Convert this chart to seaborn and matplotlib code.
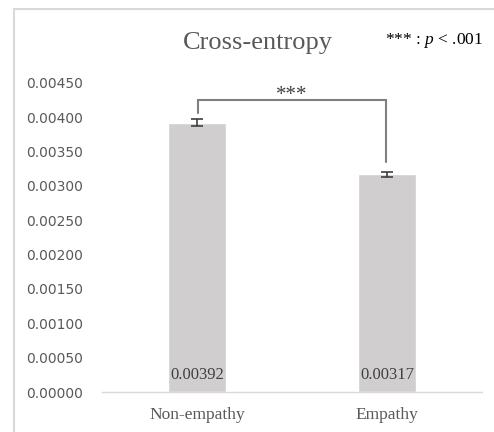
import matplotlib
matplotlib.use("Agg")
import matplotlib.pyplot as plt
import seaborn as sns
import pandas as pd
from matplotlib.patches import Rectangle

# data
groups = ["Non-empathy", "Empathy"]
cross_entropy = [0.00392, 0.00317]
errors = [0.00005, 0.00004]
y_ticks = [0.0, 0.0005, 0.0010, 0.0015, 0.0020, 0.0025, 0.0030, 0.0035, 0.0040, 0.0045]

df = pd.DataFrame({"group": groups, "value": cross_entropy})

sns.set_style("white")
plt.rcParams["mathtext.fontset"] = "custom"
plt.rcParams["mathtext.it"] = "Liberation Serif:italic"
plt.rcParams["mathtext.rm"] = "Liberation Serif"

fig = plt.figure(figsize=(4.94, 4.32), dpi=100)
ax = fig.add_axes([102 / 494, 40 / 432, 380 / 494, 309 / 432])

sns.barplot(data=df, x="group", y="value", color="#d0cece", saturation=1,
            width=0.31, errorbar=None, ax=ax)
ax.errorbar(range(len(groups)), cross_entropy, yerr=errors, fmt="none",
            ecolor="#404040", elinewidth=1.2, capsize=4, capthick=1.2)

# value labels at the bottom of each bar
for i, v in enumerate(cross_entropy):
    ax.text(i, 0.00025, f"{v:.5f}", ha="center", va="center",
            fontsize=12, family="Liberation Serif", color="#404040")

# significance bracket
ax.plot([0.005, 0.005, 0.995, 0.995], [0.004067, 0.004257, 0.004257, 0.003353],
        color="#7f7f7f", lw=1.5, solid_joinstyle="miter")
ax.text(0.5, 0.00432, "***", ha="center", va="center", fontsize=15,
        family="Liberation Serif", color="#404040")

ax.set_xlim(-0.5, 1.5)
ax.set_ylim(0, 0.0045)
ax.set_yticks(y_ticks)
ax.set_yticklabels([f"{t:.5f}" for t in y_ticks], fontsize=10,
                   family="DejaVu Sans", color="#595959")
ax.tick_params(axis="y", length=0, pad=13.5)
ax.tick_params(axis="x", length=0, pad=11)
for lab in ax.get_xticklabels():
    lab.set_family("Liberation Serif")
    lab.set_fontsize(12.5)
    lab.set_color("#595959")
ax.set_xlabel("")
ax.set_ylabel("")
for s in ["top", "right", "left"]:
    ax.spines[s].set_visible(False)
ax.spines["bottom"].set_color("#d9d9d9")
ax.spines["bottom"].set_linewidth(1.0)

fig.text(258 / 494, 1 - 43 / 432, "Cross-entropy", ha="center", va="center",
         fontsize=19, family="Liberation Serif", color="#595959")
fig.text(483 / 494, 1 - 40 / 432, r"*** : $\mathit{p}$ < .001", ha="right",
         va="center", fontsize=12.5, family="Liberation Serif", color="black")

# outer chart frame
fig.patches.append(Rectangle((13.5 / 494, -0.1), 1.0, 1.1 - 9.5 / 432,
                             transform=fig.transFigure, fill=False,
                             edgecolor="#d9d9d9", lw=1.5))

fig.savefig("out.png", dpi=100)
